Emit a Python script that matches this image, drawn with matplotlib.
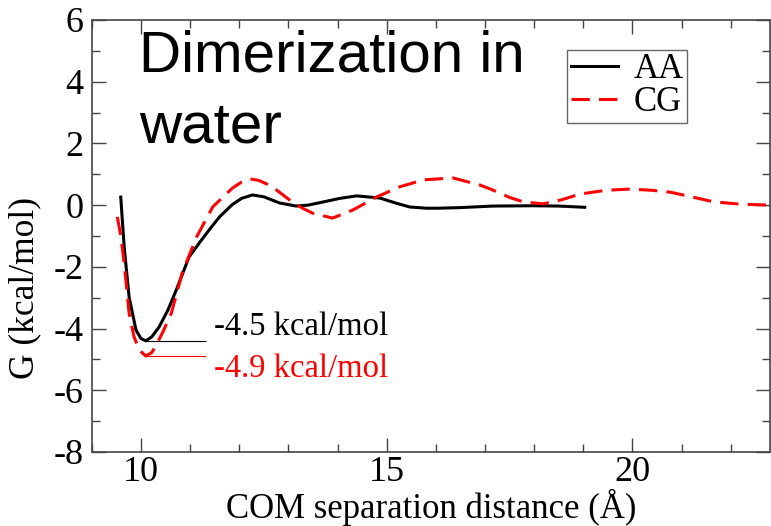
import matplotlib
matplotlib.use("Agg")
import matplotlib.pyplot as plt
from matplotlib.ticker import MultipleLocator

plt.rcParams["axes.unicode_minus"] = False

# AA (all-atom) free energy profile
aa_x = [9.59, 9.66, 9.76, 9.90, 10.00, 10.10, 10.22, 10.37, 10.55, 10.72, 10.98,
        11.20, 11.39, 11.60, 11.86, 12.05, 12.27, 12.50, 12.82, 13.16, 13.40,
        13.70, 14.05, 14.39, 14.86, 15.20, 15.47, 15.81, 16.04, 16.50, 17.16,
        17.97, 18.50, 19.03]
aa_g = [0.26, -1.36, -2.98, -4.05, -4.32, -4.40, -4.27, -3.95, -3.40, -2.75, -1.68,
        -1.20, -0.80, -0.38, 0.02, 0.22, 0.33, 0.27, 0.07, -0.03, 0.00,
        0.10, 0.22, 0.30, 0.23, 0.06, -0.06, -0.10, -0.10, -0.08, -0.03,
        -0.02, -0.03, -0.07]

# CG (coarse-grained) free energy profile
cg_x = [9.52, 9.59, 9.66, 9.76, 9.86, 9.97, 10.10, 10.22, 10.31, 10.45, 10.62,
        10.84, 11.13, 11.46, 11.86, 12.05, 12.22, 12.40, 12.61, 12.76, 13.08,
        13.29, 13.49, 13.90, 14.31, 14.79, 15.26, 15.75, 16.35, 16.90, 17.16,
        17.50, 17.77, 18.18, 18.55, 18.94, 19.45, 19.95, 20.40, 20.77, 21.20,
        21.64, 22.20, 22.80]
cg_g = [-0.38, -1.00, -1.88, -3.50, -4.27, -4.70, -4.89, -4.78, -4.54, -4.10, -3.50,
        -2.20, -1.04, -0.06, 0.55, 0.75, 0.85, 0.80, 0.65, 0.49, 0.10,
        -0.10, -0.26, -0.42, -0.16, 0.26, 0.59, 0.82, 0.88, 0.65, 0.49,
        0.25, 0.11, 0.04, 0.17, 0.36, 0.48, 0.52, 0.48, 0.42, 0.27,
        0.11, 0.03, 0.00]

labels = ["AA", "CG"]
min_labels = ["-4.5 kcal/mol", "-4.9 kcal/mol"]

serif = "Liberation Serif"
fig = plt.figure(figsize=(7.71, 5.26), dpi=100)
ax = fig.add_axes([0.119, 0.1407, 0.8798, 0.8213])

ax.plot(aa_x, aa_g, color="black", lw=2.2, label=labels[0])
ax.plot(cg_x, cg_g, color="red", lw=2.2, dashes=(6, 3), label=labels[1])

# minimum markers
aa_i = aa_g.index(min(aa_g))
cg_i = cg_g.index(min(cg_g))
ax.hlines(aa_g[aa_i], aa_x[aa_i], 11.33, color="black", lw=0.8)
ax.hlines(cg_g[cg_i], cg_x[cg_i], 11.33, color="red", lw=0.8)
ax.text(11.48, -4.22, min_labels[0], fontsize=23.5, family=serif, color="black")
ax.text(11.48, -5.57, min_labels[1], fontsize=23.5, family=serif, color="red")

ax.text(9.97, 5.68, "Dimerization in\nwater", fontsize=42, family="Liberation Sans",
        va="top", ha="left", linespacing=1.4)

ax.set_xlim(9, 22.8)
ax.set_ylim(-8, 6)
ax.xaxis.set_major_locator(MultipleLocator(5))
ax.xaxis.set_minor_locator(MultipleLocator(1))
ax.yaxis.set_major_locator(MultipleLocator(2))
ax.yaxis.set_minor_locator(MultipleLocator(1))
ax.tick_params(which="both", direction="in", top=True, right=True, color="#444444")
ax.tick_params(which="major", length=10, width=1)
ax.tick_params(which="minor", length=6, width=1)
ax.tick_params(axis="x", pad=3)
ax.tick_params(axis="y", pad=6)
for lab in ax.get_xticklabels() + ax.get_yticklabels():
    lab.set_family(serif)
    lab.set_fontsize(26)
for sp in ax.spines.values():
    sp.set_color("#444444")
    sp.set_linewidth(1.2)

ax.set_xlabel("COM separation distance (Å)", fontsize=25, family=serif, labelpad=0)
ax.set_ylabel("G (kcal/mol)", fontsize=25.5, family=serif)
ax.yaxis.set_label_coords(-0.075, 0.38)

leg = ax.legend(loc="upper left", bbox_to_anchor=(0.701, 0.9306), borderaxespad=0,
                fancybox=False, edgecolor="#666666", framealpha=1,
                prop={"family": serif, "size": 25}, handlelength=1.35,
                handletextpad=0.45, labelspacing=0.0, borderpad=0.1)
leg.get_frame().set_linewidth(1.0)

fig.savefig("out.png", dpi=100)
